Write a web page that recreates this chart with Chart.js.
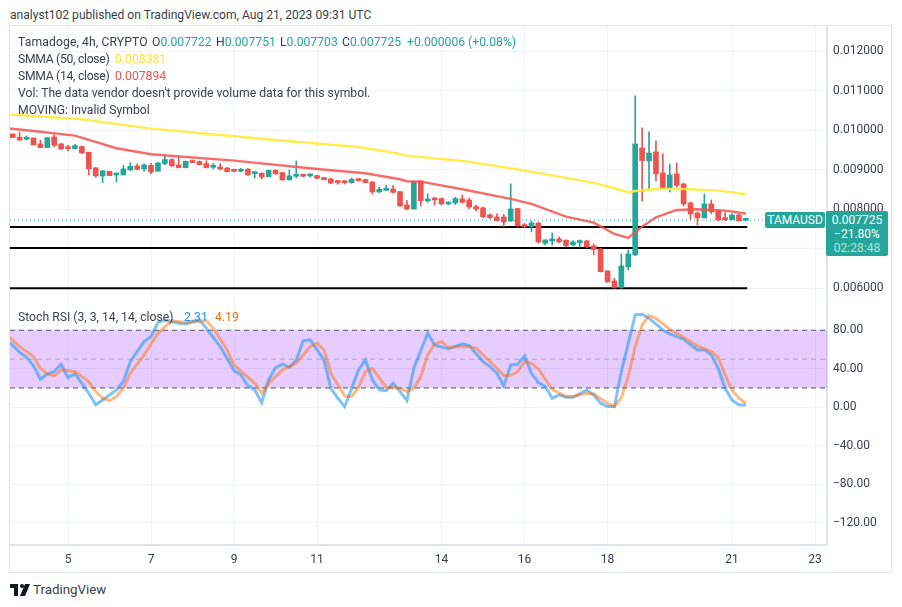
<!DOCTYPE html>
<html>
<head>
<meta charset="utf-8">
<title>Tamadoge 4h</title>
<script src="https://cdn.jsdelivr.net/npm/chart.js@4/dist/chart.umd.js"></script>
<style>
  html, body { margin: 0; padding: 0; background: #fff; }
  body { width: 902px; height: 607px; position: relative; overflow: hidden; font-family: Roboto, sans-serif; color: #3a3e4a; }
  .abs { position: absolute; white-space: nowrap; }
  #frame { position: absolute; left: 9px; top: 25px; width: 881px; height: 546px; border: 1px solid #e3e5ec; }
  canvas { position: absolute; left: 10px; }
  #priceCanvas { top: 26px; }
  #stochCanvas { top: 301px; }
  .legend { font-size: 12.2px; line-height: 16px; }
  .tight { letter-spacing: -0.3px; }
  .up { color: #26a69a; }
  #pairTag { left: 765px; top: 212px; width: 60px; height: 16px; background: #26a69a; color: #fff; font-size: 12px; line-height: 16px; text-align: center; border-radius: 2px; }
  #priceTag { left: 826px; top: 211px; width: 62px; height: 45px; background: #26a69a; color: #fff; font-size: 12px; line-height: 14px; text-align: center; padding-top: 2px; box-sizing: border-box; border-radius: 2px; }
  #priceTag .count { color: #b6e0dc; }
</style>
</head>
<body>
<div class="abs" style="left:10px;top:7px;font-size:12.1px;line-height:16px;">analyst102 published on TradingView.com, Aug 21, 2023 09:31 UTC</div>
<div id="frame"></div>
<canvas id="priceCanvas" width="880" height="275" style="width:880px;height:275px"></canvas>
<canvas id="stochCanvas" width="880" height="271" style="width:880px;height:271px"></canvas>

<!-- Legend text -->
<div class="abs legend" style="left:18px;top:34px;letter-spacing:0.1px;">Tamadoge, 4h, CRYPTO</div>
<div class="abs legend" style="left:152px;top:34px;">O<span class="up">0.007722</span></div>
<div class="abs legend" style="left:216px;top:34px;">H<span class="up">0.007751</span></div>
<div class="abs legend" style="left:280px;top:34px;">L<span class="up">0.007703</span></div>
<div class="abs legend" style="left:342px;top:34px;">C<span class="up">0.007725</span></div>
<div class="abs legend up" style="left:407px;top:34px;">+0.000006 (+0.08%)</div>
<div class="abs legend tight" style="left:18px;top:51px;">SMMA (50, close)</div>
<div class="abs legend" style="left:115px;top:51px;color:#f7e34a;">0.008381</div>
<div class="abs legend tight" style="left:18px;top:68px;">SMMA (14, close)</div>
<div class="abs legend" style="left:115px;top:68px;color:#f05350;">0.007894</div>
<div class="abs legend" style="left:18px;top:85px;">Vol: The data vendor doesn't provide volume data for this symbol.</div>
<div class="abs legend" style="left:18px;top:102px;">MOVING: Invalid Symbol</div>
<div class="abs legend" style="left:18px;top:309px;">Stoch RSI (3, 3, 14, 14, close)</div>
<div class="abs legend" style="left:184px;top:309px;color:#2196f3;">2.31</div>
<div class="abs legend" style="left:215px;top:309px;color:#ff6d00;">4.19</div>

<!-- Price tags -->
<div class="abs" id="pairTag">TAMAUSD</div>
<div class="abs" id="priceTag">0.007725<br>−21.80%<br><span class="count">02:28:48</span></div>

<!-- Footer logo -->
<svg class="abs" style="left:10px;top:584px;" width="20" height="12" viewBox="0 0 20 12">
  <path d="M0 0h8v12H4V4H0z M12 4a2 2 0 1 0 0-4a2 2 0 0 0 0 4z M15 0h5l-5 12h-5z" fill="#131722"/>
</svg>
<div class="abs" style="left:33px;top:582px;font-size:13.3px;line-height:16px;color:#3a3e4a;">TradingView</div>

<script>
// Candles, one per 4h bar
const opens = [
  0.009907, 0.009823, 0.009772, 0.009806, 0.009654, 0.009561, 0.009831, 0.009654, 0.009587, 0.009536,
  0.009587, 0.009443, 0.009047, 0.008844, 0.008962, 0.008869, 0.008869, 0.008996, 0.009097, 0.009021,
  0.009114, 0.008962, 0.009156, 0.009258, 0.009123, 0.009055, 0.009224, 0.009207, 0.009156, 0.009063,
  0.009063, 0.009047, 0.008987, 0.008962, 0.009013, 0.008903, 0.008912, 0.008827, 0.008987, 0.008928,
  0.008743, 0.008836, 0.008869, 0.008844, 0.008852, 0.008793, 0.008768, 0.008701, 0.008692, 0.008675,
  0.008760, 0.008751, 0.008692, 0.008439, 0.008481, 0.008515, 0.008447, 0.008110, 0.008008, 0.008717,
  0.008211, 0.008262, 0.008270, 0.008135, 0.008160, 0.008262, 0.008236, 0.008068, 0.008034, 0.007857,
  0.007806, 0.007806, 0.007705, 0.008017, 0.007603, 0.007561, 0.007654, 0.007139, 0.007198, 0.007249,
  0.007215, 0.007097, 0.007156, 0.007198, 0.007072, 0.006996, 0.006439, 0.006185, 0.006025, 0.006540,
  0.006844, 0.009553, 0.009224, 0.009452, 0.008920, 0.008540, 0.008895, 0.008641, 0.008160, 0.007907,
  0.007781, 0.008135, 0.007966, 0.007755, 0.007738, 0.007857, 0.007722
];
const closes = [
  0.009815, 0.009756, 0.009823, 0.009629, 0.009561, 0.009815, 0.009620, 0.009528, 0.009536, 0.009612,
  0.009426, 0.009021, 0.008844, 0.008971, 0.008852, 0.008895, 0.009021, 0.009089, 0.009013, 0.009123,
  0.008945, 0.009173, 0.009258, 0.009097, 0.009055, 0.009215, 0.009182, 0.009131, 0.009055, 0.009089,
  0.009021, 0.008954, 0.008962, 0.009004, 0.008869, 0.008920, 0.008819, 0.008987, 0.008895, 0.008743,
  0.008844, 0.008878, 0.008836, 0.008861, 0.008785, 0.008751, 0.008667, 0.008675, 0.008675, 0.008760,
  0.008726, 0.008675, 0.008439, 0.008506, 0.008515, 0.008430, 0.008084, 0.008008, 0.008692, 0.008219,
  0.008262, 0.008236, 0.008135, 0.008169, 0.008270, 0.008177, 0.008059, 0.008008, 0.007814, 0.007789,
  0.007713, 0.007679, 0.008008, 0.007578, 0.007561, 0.007654, 0.007173, 0.007224, 0.007249, 0.007173,
  0.007080, 0.007173, 0.007198, 0.007046, 0.006979, 0.006422, 0.006160, 0.006025, 0.006565, 0.006869,
  0.009654, 0.009232, 0.009426, 0.008895, 0.008540, 0.008869, 0.008608, 0.008135, 0.007882, 0.007781,
  0.008135, 0.007932, 0.007730, 0.007738, 0.007857, 0.007705, 0.007725
];
const highs = [
  0.009907, 0.009950, 0.009857, 0.009806, 0.009756, 0.009815, 0.009882, 0.009671, 0.009620, 0.009646,
  0.009604, 0.009443, 0.009063, 0.008987, 0.008962, 0.008912, 0.009106, 0.009182, 0.009148, 0.009148,
  0.009165, 0.009190, 0.009367, 0.009283, 0.009334, 0.009223, 0.009249, 0.009224, 0.009232, 0.009165,
  0.009156, 0.009055, 0.009013, 0.009038, 0.009038, 0.008945, 0.008928, 0.008996, 0.009004, 0.008936,
  0.008996, 0.009224, 0.008878, 0.008895, 0.008869, 0.008802, 0.008785, 0.008734, 0.008717, 0.008793,
  0.008776, 0.008768, 0.008700, 0.008565, 0.008608, 0.008599, 0.008456, 0.008219, 0.008700, 0.008725,
  0.008388, 0.008304, 0.008287, 0.008186, 0.008304, 0.008363, 0.008287, 0.008101, 0.008059, 0.007882,
  0.007882, 0.007873, 0.008641, 0.008025, 0.007646, 0.007705, 0.007671, 0.007232, 0.007401, 0.007299,
  0.007224, 0.007207, 0.007224, 0.007215, 0.007122, 0.007004, 0.006448, 0.006253, 0.006869, 0.006970,
  0.010870, 0.010059, 0.009958, 0.009730, 0.009401, 0.009148, 0.009173, 0.008667, 0.008186, 0.007932,
  0.008388, 0.008236, 0.007983, 0.007916, 0.007882, 0.007882, 0.007751
];
const lows = [
  0.009815, 0.009730, 0.009756, 0.009629, 0.009561, 0.009561, 0.009578, 0.009511, 0.009477, 0.009519,
  0.009409, 0.008869, 0.008810, 0.008675, 0.008852, 0.008692, 0.008869, 0.008979, 0.009004, 0.008962,
  0.008895, 0.008962, 0.009123, 0.009089, 0.009047, 0.009047, 0.009182, 0.009123, 0.009047, 0.009021,
  0.008996, 0.008945, 0.008945, 0.008954, 0.008861, 0.008793, 0.008768, 0.008819, 0.008886, 0.008735,
  0.008743, 0.008793, 0.008827, 0.008810, 0.008768, 0.008743, 0.008650, 0.008633, 0.008641, 0.008658,
  0.008709, 0.008667, 0.008388, 0.008422, 0.008473, 0.008405, 0.008070, 0.007983, 0.008000, 0.008084,
  0.008177, 0.008110, 0.008110, 0.008110, 0.008118, 0.008152, 0.008017, 0.007966, 0.007781, 0.007764,
  0.007705, 0.007561, 0.007688, 0.007570, 0.007536, 0.007426, 0.007148, 0.007097, 0.007097, 0.007148,
  0.007046, 0.007072, 0.007038, 0.007029, 0.006844, 0.006414, 0.006152, 0.006000, 0.006000, 0.006464,
  0.006827, 0.008211, 0.008506, 0.008717, 0.008540, 0.008439, 0.008565, 0.008084, 0.007747, 0.007603,
  0.007781, 0.007882, 0.007705, 0.007705, 0.007730, 0.007705, 0.007703
];

// SMMA lines, read at the bars where they bend
const smma50Bars = [-0.4, 10, 20, 30, 40, 50, 56, 57, 65, 72, 79, 84, 87, 89, 90, 93, 97, 102, 106];
const smma50 = [0.010400, 0.010279, 0.010042, 0.009882, 0.009722, 0.009578, 0.009401, 0.009359, 0.009224, 0.009038, 0.008827, 0.008667, 0.008532, 0.008430, 0.008464, 0.008515, 0.008515, 0.008473, 0.008381];
const smma14Bars = [-0.4, 3, 9, 15, 20, 32, 44, 51, 56, 57, 59, 65, 72, 75, 80, 84, 87, 89, 91, 93, 96, 99, 103, 106];
const smma14 = [0.010045, 0.009983, 0.009865, 0.009545, 0.009393, 0.009232, 0.009021, 0.008912, 0.008760, 0.008709, 0.008700, 0.008506, 0.008262, 0.008135, 0.007814, 0.007662, 0.007375, 0.007274, 0.007561, 0.007797, 0.007983, 0.008000, 0.007966, 0.007894];

// Horizontal levels and last price
const levels = [0.00755, 0.00702, 0.00600];
const lastPrice = 0.007725;
const levelBars = [-0.39, 106.2];

// Stoch RSI
const stochKBars = [-0.4, 1, 2, 3, 4, 5, 6, 7, 8, 9, 10, 11, 12, 13, 15, 16, 17, 19, 20, 21, 22, 24, 25, 27, 28, 30, 32, 33, 34, 35, 36, 37, 38, 39, 40, 41, 42, 43, 45, 46, 47, 48, 49, 50, 51, 52, 53, 54, 55, 56, 57, 58, 60, 61, 63, 65, 66, 68, 69, 70, 71, 72, 73, 74, 75, 76, 77, 78, 79, 80, 81, 83, 84, 85, 86, 87, 88, 89, 90, 91, 92, 94, 95, 97, 99, 100, 101, 102, 103, 104, 105, 106];
const stochK = [67.2, 57.1, 51.9, 43.3, 29.1, 34.6, 37.1, 44.7, 30.8, 34.6, 24.9, 14.5, 2.8, 7.6, 18.0, 26.7, 47.4, 68.2, 73.4, 88.0, 90.7, 87.3, 86.6, 90.7, 82.1, 63.0, 38.1, 33.6, 22.2, 18.0, 4.8, 28.4, 41.2, 44.7, 41.6, 49.2, 68.9, 70.0, 49.2, 19.7, 9.4, 0.7, 19.7, 38.8, 49.2, 28.4, 18.0, 17.3, 24.9, 16.3, 6.9, 40.5, 76.9, 64.8, 60.6, 65.8, 64.1, 47.4, 42.3, 35.3, 22.2, 44.0, 44.7, 53.3, 35.3, 25.6, 21.5, 9.4, 12.8, 10.4, 10.4, 18.0, 12.8, 4.2, 0.7, 0.7, 37.1, 66.5, 95.9, 96.6, 92.5, 80.3, 76.2, 70.6, 59.6, 59.6, 54.4, 40.5, 19.7, 7.6, 2.4, 2.31];
const stochDBars = [-0.4, 1, 3, 4, 5, 6, 7, 9, 11, 12, 13, 14, 15, 16, 17, 19, 21, 23, 25, 28, 29, 31, 32, 35, 36, 37, 39, 41, 43, 44, 45, 46, 48, 49, 50, 51, 52, 54, 56, 57, 58, 59, 60, 61, 62, 63, 66, 67, 70, 71, 72, 73, 74, 75, 76, 78, 80, 81, 83, 84, 86, 87, 88, 89, 90, 91, 92, 93, 95, 97, 99, 101, 102, 103, 104, 105, 106];
const stochD = [72.4, 63.0, 52.6, 40.5, 34.6, 32.6, 38.8, 37.1, 26.7, 16.3, 9.4, 6.9, 11.1, 19.7, 35.3, 54.4, 76.9, 90.0, 88.0, 90.0, 82.1, 59.6, 44.0, 24.9, 14.5, 24.9, 38.8, 45.7, 63.0, 66.5, 59.6, 35.3, 11.8, 11.1, 20.8, 37.1, 40.5, 20.8, 19.7, 16.3, 19.7, 31.9, 54.4, 65.8, 68.2, 62.3, 63.0, 61.3, 40.5, 32.9, 33.2, 37.1, 47.4, 45.7, 39.8, 18.7, 11.1, 11.1, 14.5, 13.9, 4.2, 0.7, 10.0, 31.9, 63.0, 85.5, 95.2, 92.5, 81.0, 72.7, 63.7, 57.8, 51.9, 33.6, 18.0, 9.4, 4.19];
const bandTop = 80;
const bandMid = 50;
const bandBottom = 20;

// Axis ticks
const dayBars = [8, 20, 32, 44, 62, 74, 86, 104, 116];
const dayLabels = ['5', '7', '9', '11', '14', '16', '18', '21', '23'];
const priceTicks = [0.012, 0.011, 0.010, 0.009, 0.008, 0.007, 0.006];
const priceLabels = ['0.012000', '0.011000', '0.010000', '0.009000', '0.008000', '', '0.006000'];
const stochTicks = [80, 40, 0, -40, -80, -120];
const stochLabels = ['80.00', '40.00', '0.00', '−40.00', '−80.00', '−120.00'];

const GREEN = '#26a69a';
const RED = '#ef5350';
const GRID = '#f0f3fa';
const AXIS_LINE = '#e0e3eb';
const TICK_TEXT = '#3a3e4a';
const barMin = -0.39;
const barMax = 117.73;

const toPoints = (xs, ys) => xs.map((x, i) => ({ x: x, y: ys[i] }));
const flatLine = (y) => levelBars.map(x => ({ x: x, y: y }));
const candleColors = closes.map((c, i) => (c >= opens[i] ? GREEN : RED));

function xAxis(showLabels, height) {
    return {
        type: 'linear',
        offset: false,
        min: barMin,
        max: barMax,
        afterBuildTicks: (axis) => { axis.ticks = dayBars.map(v => ({ value: v })); },
        afterFit: (axis) => { axis.height = height; axis.paddingLeft = 0; axis.paddingRight = 0; },
        grid: { color: GRID, drawTicks: false, offset: false },
        border: { display: showLabels, color: AXIS_LINE, width: 2 },
        ticks: {
            display: showLabels,
            autoSkip: false,
            maxRotation: 0,
            padding: 8,
            color: TICK_TEXT,
            font: { family: 'Roboto', size: 12 },
            callback: (value, index) => dayLabels[index],
        },
    };
}

function yAxis(min, max, tickValues, tickLabels) {
    return {
        position: 'right',
        min: min,
        max: max,
        afterBuildTicks: (axis) => { axis.ticks = tickValues.map(v => ({ value: v })); },
        afterFit: (axis) => { axis.width = 63; axis.paddingTop = 0; axis.paddingBottom = 0; },
        grid: { color: GRID, drawTicks: false },
        border: { color: AXIS_LINE, width: 2 },
        ticks: {
            autoSkip: false,
            padding: 6,
            color: TICK_TEXT,
            font: { family: 'Roboto', size: 12 },
            callback: (value, index) => tickLabels[index],
        },
    };
}

const baseOptions = {
    responsive: false,
    animation: false,
    layout: { padding: 0 },
    plugins: { legend: { display: false }, tooltip: { enabled: false } },
    elements: { point: { radius: 0 } },
};

// Price pane
new Chart(document.getElementById('priceCanvas').getContext('2d'), {
    data: {
        datasets: [
            { type: 'line', data: flatLine(levels[0]), borderColor: '#000', borderWidth: 2, order: 6 },
            { type: 'line', data: flatLine(levels[1]), borderColor: '#000', borderWidth: 2, order: 6 },
            { type: 'line', data: flatLine(levels[2]), borderColor: '#000', borderWidth: 2, order: 6 },
            { type: 'line', data: [{ x: barMin, y: lastPrice }, { x: barMax, y: lastPrice }], borderColor: GREEN, borderWidth: 1, borderDash: [1, 3], order: 5 },
            { type: 'bar', data: toPoints(closes.map((c, i) => i), lows.map((l, i) => [l, highs[i]])), backgroundColor: candleColors, barThickness: 1, grouped: false, order: 4 },
            { type: 'bar', data: toPoints(closes.map((c, i) => i), opens.map((o, i) => [o, closes[i]])), backgroundColor: candleColors, barThickness: 5, minBarLength: 2, grouped: false, order: 3 },
            { type: 'line', data: toPoints(smma50Bars, smma50), borderColor: 'rgba(255, 235, 59, 0.9)', borderWidth: 2.4, order: 2 },
            { type: 'line', data: toPoints(smma14Bars, smma14), borderColor: 'rgba(242, 83, 80, 0.85)', borderWidth: 2.4, order: 1 },
        ],
    },
    options: Object.assign({}, baseOptions, {
        scales: {
            x: xAxis(false, 0),
            y: yAxis(0.005678, 0.01264, priceTicks, priceLabels),
        },
    }),
});

// Stoch RSI pane
new Chart(document.getElementById('stochCanvas').getContext('2d'), {
    type: 'line',
    data: {
        datasets: [
            { data: [{ x: barMin, y: bandTop }, { x: barMax, y: bandTop }], borderWidth: 0, backgroundColor: 'rgba(180, 100, 255, 0.33)', fill: { target: { value: bandBottom } }, order: 6 },
            { data: [{ x: barMin, y: bandTop }, { x: barMax, y: bandTop }], borderColor: '#555', borderWidth: 1, borderDash: [5, 4], order: 5 },
            { data: [{ x: barMin, y: bandMid }, { x: barMax, y: bandMid }], borderColor: '#aaa', borderWidth: 1, borderDash: [5, 4], order: 5 },
            { data: [{ x: barMin, y: bandBottom }, { x: barMax, y: bandBottom }], borderColor: '#555', borderWidth: 1, borderDash: [5, 4], order: 5 },
            { data: toPoints(stochKBars, stochK), borderColor: 'rgba(33, 150, 243, 0.58)', borderWidth: 3, order: 2 },
            { data: toPoints(stochDBars, stochD), borderColor: 'rgba(255, 109, 0, 0.48)', borderWidth: 3, order: 1 },
        ],
    },
    options: Object.assign({}, baseOptions, {
        scales: {
            x: xAxis(true, 27),
            y: yAxis(-143.1, 110.4, stochTicks, stochLabels),
        },
    }),
});
</script>
</body>
</html>
